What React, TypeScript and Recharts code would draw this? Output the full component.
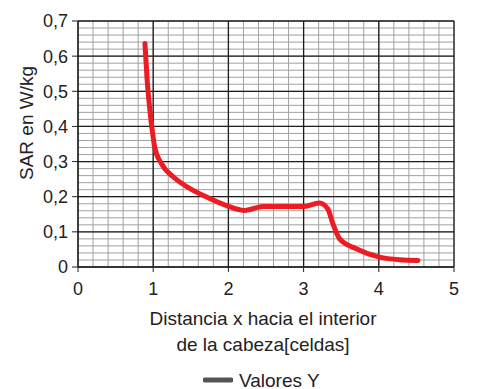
import { CartesianGrid, Legend, Line, LineChart, XAxis, YAxis } from "recharts";

const distancia = [
  0.89, 0.92, 0.956, 0.987, 1.02, 1.11, 1.27, 1.49, 1.71, 1.97, 2.15, 2.22, 2.46, 2.99, 3.21, 3.32, 3.39,
  3.48, 3.7, 4.01, 4.28, 4.52,
];
const sar = [
  0.636, 0.531, 0.446, 0.389, 0.341, 0.294, 0.256, 0.223, 0.199, 0.175, 0.163, 0.161, 0.172, 0.172, 0.182,
  0.166, 0.123, 0.08, 0.052, 0.028, 0.0205, 0.0185,
];

const xTicks = [0, 1, 2, 3, 4, 5];
const yTicks = [0, 0.1, 0.2, 0.3, 0.4, 0.5, 0.6, 0.7];
const xMinorTicks = Array.from({ length: 26 }, (_, i) => +(i * 0.2).toFixed(2));
const yMinorTicks = Array.from({ length: 36 }, (_, i) => +(i * 0.02).toFixed(2));

const data = distancia.map((x, i) => ({ x, y: sar[i] }));

const FONT = '"Liberation Sans", Arial, Helvetica, sans-serif';
const TEXT = "#222";

const fmt = (v: number) => String(v).replace(".", ",");

function LegendContent() {
  return (
    <div
      style={{
        height: 30,
        boxSizing: "border-box",
        paddingTop: 12,
        paddingLeft: 203,
        display: "flex",
        alignItems: "center",
        lineHeight: "19px",
        fontFamily: FONT,
        fontSize: 19,
        color: TEXT,
      }}
    >
      <svg width={30} height={8} style={{ marginRight: 6 }}>
        <line x1={2} y1={4} x2={28} y2={4} stroke="#555" strokeWidth={5} strokeLinecap="round" />
      </svg>
      <span>Valores Y</span>
    </div>
  );
}

// minor horizontal grid lines, placed with the y axis scale
const minorRows = ({ yAxis, offset }: any) =>
  yMinorTicks.map((v) =>
    typeof yAxis?.scale === "function" ? yAxis.scale(v) : offset.top + offset.height * (1 - v / 0.7)
  );

export default function App() {
  return (
    <div style={{ position: "absolute", left: 0, top: 0, fontFamily: FONT }}>
      <LineChart width={477} height={389} data={data} margin={{ top: 21, right: 23, left: 0, bottom: 0 }}>
        <XAxis xAxisId="minor" type="number" dataKey="x" domain={[0, 5]} ticks={xMinorTicks} interval={0} hide />
        <CartesianGrid
          xAxisId="minor"
          stroke="#a0a0a0"
          strokeWidth={1}
          horizontalCoordinatesGenerator={minorRows}
        />
        <CartesianGrid stroke="#1e1e1e" strokeWidth={1.3} />
        <XAxis
          type="number"
          dataKey="x"
          domain={[0, 5]}
          ticks={xTicks}
          height={92}
          tickSize={5}
          tickMargin={10}
          tick={{ fontSize: 18, fill: TEXT, fontFamily: FONT }}
          stroke="#222"
          label={({ viewBox }: any) => {
            const cx = viewBox.x + viewBox.width / 2 - 3;
            return (
              <text textAnchor="middle" fontSize={19} fill={TEXT} fontFamily={FONT}>
                <tspan x={cx} y={viewBox.y + 57.5}>
                  Distancia x hacia el interior
                </tspan>
                <tspan x={cx} y={viewBox.y + 84}>
                  de la cabeza[celdas]
                </tspan>
              </text>
            );
          }}
        />
        <YAxis
          type="number"
          domain={[0, 0.7]}
          ticks={yTicks}
          width={78}
          tickSize={6}
          tickMargin={4}
          tickFormatter={fmt}
          tick={{ fontSize: 18, fill: TEXT, fontFamily: FONT }}
          stroke="#222"
          label={({ viewBox }: any) => {
            const cy = viewBox.y + viewBox.height / 2 - 21;
            return (
              <text
                x={32.5}
                y={cy}
                textAnchor="middle"
                fontSize={19}
                fill={TEXT}
                fontFamily={FONT}
                transform={`rotate(-90, 32.5, ${cy})`}
              >
                SAR en W/kg
              </text>
            );
          }}
        />
        <Legend verticalAlign="bottom" content={<LegendContent />} />
        <Line
          type="monotone"
          dataKey="y"
          stroke="#ec1c24"
          strokeWidth={5}
          strokeLinecap="round"
          dot={false}
          isAnimationActive={false}
          legendType="line"
        />
      </LineChart>
    </div>
  );
}
